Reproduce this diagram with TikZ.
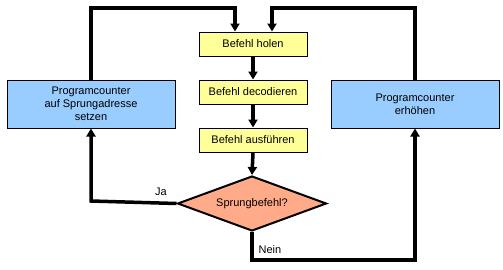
\documentclass[tikz,border=0pt]{standalone}
\usepackage{fontspec}
\setmainfont{Liberation Sans}
\usetikzlibrary{arrows.meta,shapes.geometric}
\definecolor{boxyellow}{HTML}{FFFF99}
\definecolor{boxblue}{HTML}{99CCFF}
\definecolor{boxsalmon}{HTML}{FFAA88}
\begin{document}
\begin{tikzpicture}[x=1pt,y=-1pt,
  font=\fontsize{11}{13}\selectfont,
  stepbox/.style={draw=black,line width=1pt,fill=boxyellow,minimum width=108pt,minimum height=24pt,inner sep=0pt},
  pcbox/.style={draw=black,line width=1pt,fill=boxblue,minimum width=168pt,minimum height=48pt,inner sep=0pt,align=center},
  decision/.style={diamond,draw=black,line width=2pt,fill=boxsalmon,minimum width=149pt,minimum height=55pt,inner sep=0pt,aspect=2.7},
  flow/.style={line width=3.5pt,-{Triangle[length=8pt,width=9pt]}},
  lbl/.style={inner sep=0pt}]
\useasboundingbox (0,0) rectangle (503,269);
\node[stepbox] (holen) at (253,44) {Befehl holen};
\node[stepbox] (dec) at (253,92) {Befehl decodieren};
\node[stepbox] (aus) at (253,140) {Befehl ausführen};
\node[decision] (sprung) at (252,203.5) {Sprungbefehl?};
\node[pcbox] (pcsetzen) at (91,104) {Programcounter\\auf Sprungadresse\\setzen};
\node[pcbox] (pcinc) at (415,104) {Programcounter\\erhöhen};
\coordinate (tl) at (91,8);
\coordinate (tr) at (415,8);
\coordinate (bl) at (91,201);
\coordinate (br) at (415,260);
\draw[flow] (holen.south) -- (dec.north);
\draw[flow] (dec.south) -- (aus.north);
\draw[flow] (aus.south) -- (sprung.north);
\draw[flow] (pcsetzen.north) -- (tl) -| ([xshift=-18pt]holen.north);
\draw[flow] (pcinc.north) -- (tr) -| ([xshift=19pt]holen.north);
\draw[flow] (sprung.west) -- (bl) -- (pcsetzen.south);
\draw[flow] (sprung.south) |- (br) -- (pcinc.south);
\node[lbl] (ja) at (161,192) {Ja};
\node[lbl] (nein) at (270,250) {Nein};
\end{tikzpicture}
\end{document}
